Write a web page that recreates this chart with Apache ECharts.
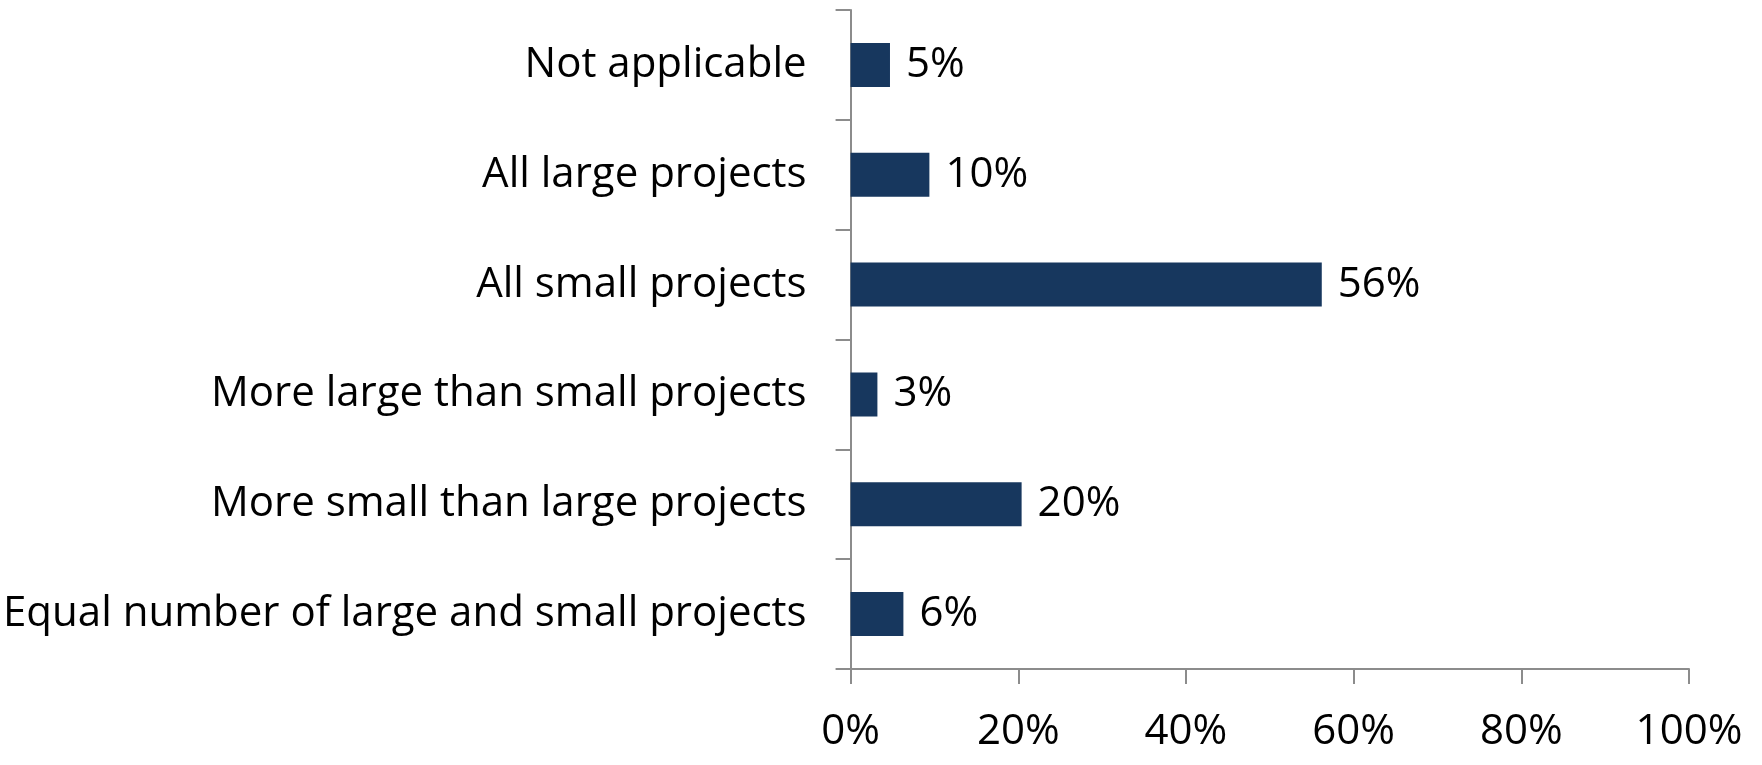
<!DOCTYPE html>
<html lang="en">
<head>
    <meta charset="UTF-8">
    <title>Project mix</title>
    <script src="https://cdn.jsdelivr.net/npm/echarts@6/dist/echarts.min.js"></script>
    <style>
        html, body { margin: 0; padding: 0; background: #fff; }
    </style>
</head>
<body>
    <div id="chart" style="width: 1762px; height: 765px;"></div>
</body>
</html>
<script>
    // bottom to top, as the category axis draws them
    var categories = [
        'Equal number of large and small projects',
        'More small than large projects',
        'More large than small projects',
        'All small projects',
        'All large projects',
        'Not applicable'
    ];
    var shares = [6.3, 20.4, 3.2, 56.2, 9.4, 4.7];
    var shareLabels = ['6%', '20%', '3%', '56%', '10%', '5%'];

    var font = 'Open Sans';
    var axisGrey = '#8c8c8c';

    var chart = echarts.init(document.getElementById('chart'));
    chart.setOption({
        animation: false,
        grid: { left: 849, right: 73, top: 10, bottom: 96 },
        xAxis: {
            type: 'value',
            min: 0,
            max: 100,
            interval: 20,
            axisLine: { show: true, lineStyle: { color: axisGrey, width: 2 } },
            axisTick: { show: true, length: 15, lineStyle: { color: axisGrey, width: 2 } },
            splitLine: { show: false },
            axisLabel: {
                formatter: '{value}%',
                color: '#000',
                fontFamily: font,
                fontSize: 42,
                margin: 42
            }
        },
        yAxis: {
            type: 'category',
            data: categories,
            axisLine: { show: true, lineStyle: { color: axisGrey, width: 2 } },
            axisTick: { show: true, length: 15, lineStyle: { color: axisGrey, width: 2 } },
            axisLabel: {
                color: '#000',
                fontFamily: font,
                fontSize: 42,
                margin: 44,
                padding: [6, 0, 0, 0]
            }
        },
        series: [{
            type: 'bar',
            data: shares,
            barWidth: '40%',
            itemStyle: { color: '#17375e' },
            label: {
                show: true,
                position: 'right',
                distance: 16,
                color: '#000',
                fontFamily: font,
                fontSize: 42,
                padding: [6, 0, 0, 0],
                formatter: function (p) { return shareLabels[p.dataIndex]; }
            }
        }]
    });
    window.onresize = chart.resize;
</script>
